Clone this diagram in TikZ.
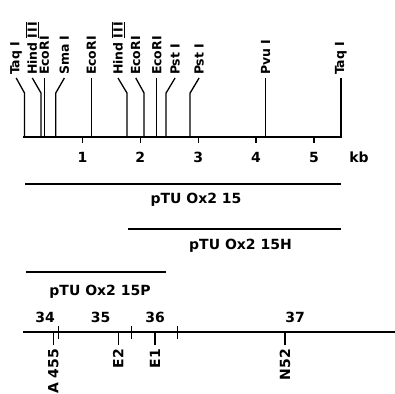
\documentclass[tikz,border=0pt]{standalone}
\usepackage{fontspec}
\setmainfont{DejaVu Sans}
\usetikzlibrary{positioning}
\newcommand{\romIII}{\ensuremath{\overline{\underline{\mbox{I\kern1.2pt I\kern1.2pt I}}}}}
\tikzset{
  axisline/.style={line width=2.2pt,line cap=rect},
  siteline/.style={line width=1.3pt},
  fragline/.style={line width=2pt},
  maplabel/.style={font=\fontsize{14}{14}\selectfont\bfseries,inner sep=0pt},
  sitelabel/.style={rotate=90,anchor=west,inner sep=0pt,outer sep=3pt,font=\fontsize{12.5}{12.5}\selectfont\bfseries},
  downlabel/.style={rotate=90,anchor=east,inner sep=0pt,outer sep=4pt,font=\fontsize{14}{14}\selectfont\bfseries}
}
\begin{document}
\begin{tikzpicture}[x=1pt,y=1pt]
  \useasboundingbox (0,0) rectangle (395,393);
  % restriction map with kb scale
  \coordinate (m0) at (24.5,256);
  \coordinate (m1) at (341,256);
  \draw[axisline] (m0) -- (m1);
  \foreach \k in {1,...,5} {
    \coordinate (t\k) at ({24.5+57.9*\k},256);
    \draw[siteline] (t\k) -- ++(0,-6);
    \node[maplabel,anchor=base] (n\k) at ([yshift=-26pt]t\k) {\k};
  }
  \node[maplabel,anchor=base] (kb) at (359,230) {kb};

  \foreach \p/\d/\t [count=\i] in {0/-8.3/Taq I, 0.285/-8.7/Hind \romIII, 0.345/0/EcoRI,
      0.54/8.6/Sma I, 1.155/0/EcoRI, 1.77/-9/Hind \romIII, 2.065/-8.3/EcoRI,
      2.285/0/EcoRI, 2.445/9/Pst I, 2.86/9/Pst I, 4.165/0/Pvu I, 5.465/0/Taq I} {
    \coordinate (s\i) at ({24.5+57.9*\p},256);
    \coordinate (b\i) at ({24.5+57.9*\p},300);
    \node[sitelabel] (l\i) at ({24.5+57.9*\p+\d},315) {\t};
    \draw[siteline] (s\i) -- (b\i) -- (l\i.west);
  }

  % cloned fragments
  \coordinate (f1a) at (25,209);    \coordinate (f1b) at (340.7,209);
  \coordinate (f2a) at (128,163.7); \coordinate (f2b) at (340.7,163.7);
  \coordinate (f3a) at (26,121.3);  \coordinate (f3b) at (165.7,121.3);
  \draw[fragline] (f1a) -- (f1b);
  \draw[fragline] (f2a) -- (f2b);
  \draw[fragline] (f3a) -- (f3b);
  \node[maplabel,anchor=base] (p1) at (196,189) {pTU Ox2 15};
  \node[maplabel,anchor=base] (p2) at (240.5,143.7) {pTU Ox2 15H};
  \node[maplabel,anchor=base] (p3) at (100,98) {pTU Ox2 15P};

  % genetic map
  \coordinate (g0) at (24,60.7);
  \coordinate (g1) at (396,60.7);
  \draw[axisline] (g0) -- (g1);
  \foreach \x [count=\i] in {58.3,131.7,177.7} {
    \coordinate (ga\i) at (\x,67);
    \coordinate (gb\i) at (\x,54);
    \draw[siteline] (ga\i) -- (gb\i);
  }
  \foreach \x/\t in {45/34,100.7/35,155/36,295/37}
    \node[maplabel,anchor=base] (u\t) at (\x,70.3) {\t};
  \foreach \x/\t [count=\i] in {53.3/A 455,118.3/E2,155/E1,285/N52} {
    \coordinate (d\i) at (\x,60.7);
    \node[downlabel] (e\i) at (\x,48) {\t};
    \draw[siteline] (d\i) -- (e\i.east);
  }
\end{tikzpicture}
\end{document}
